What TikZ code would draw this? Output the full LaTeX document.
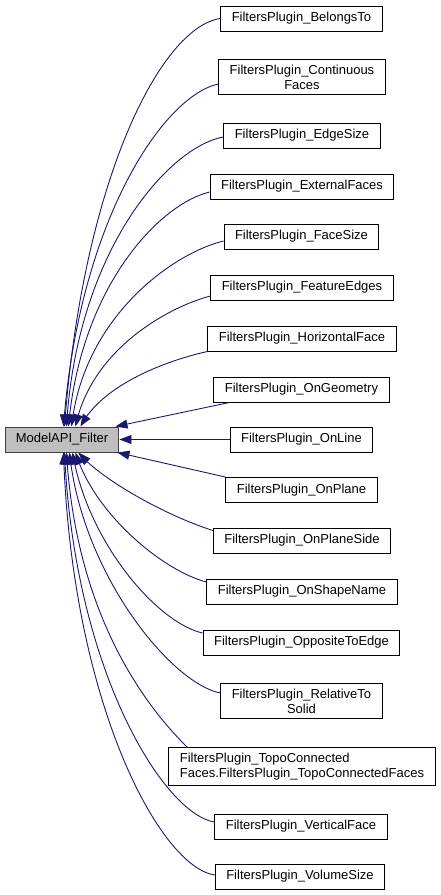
\documentclass[tikz,border=0pt]{standalone}
\usepackage{fontspec}
\setmainfont{Liberation Sans}
\usetikzlibrary{arrows.meta,bending}
\definecolor{edgeblue}{HTML}{191970}
\definecolor{rootgray}{HTML}{BFBFBF}
\definecolor{rootline}{HTML}{404040}
\tikzset{>={Triangle[length=12pt,width=9pt,bend,fill=edgeblue]},
  cls/.style={draw=black,line width=1pt,fill=white,font=\fontsize{13}{15}\selectfont,
    inner xsep=11pt,inner ysep=5pt,minimum height=25pt,align=center},
  rootcls/.style={cls,fill=rootgray,draw=rootline,inner xsep=10.75pt},
  inh/.style={draw=edgeblue,line width=0.9pt,->}}

\begin{document}
\begin{tikzpicture}[x=1pt,y=-1pt]
  \useasboundingbox (0,0) rectangle (441,895);

  \node[rootcls] (root) at (62,439.5) {ModelAPI\_Filter};

  \node[cls] (bt) at (301.5,18.5) {FiltersPlugin\_BelongsTo};
  \node[cls] (cf) at (302,77) {FiltersPlugin\_Continuous\\Faces};
  \node[cls] (es) at (302,135.5) {FiltersPlugin\_EdgeSize};
  \node[cls] (ef) at (302,186.5) {FiltersPlugin\_ExternalFaces};
  \node[cls] (fs) at (301.5,236.5) {FiltersPlugin\_FaceSize};
  \node[cls] (fe) at (302,287.5) {FiltersPlugin\_FeatureEdges};
  \node[cls] (hf) at (302,338.5) {FiltersPlugin\_HorizontalFace};
  \node[cls] (og) at (301.5,389.5) {FiltersPlugin\_OnGeometry};
  \node[cls] (ol) at (301.5,439.5) {FiltersPlugin\_OnLine};
  \node[cls] (op) at (301.5,490) {FiltersPlugin\_OnPlane};
  \node[cls] (ops) at (302,540.5) {FiltersPlugin\_OnPlaneSide};
  \node[cls] (osn) at (302,591.5) {FiltersPlugin\_OnShapeName};
  \node[cls] (ote) at (301.5,642.5) {FiltersPlugin\_OppositeToEdge};
  \node[cls] (rs) at (301.5,701) {FiltersPlugin\_RelativeTo\\Solid};
  \node[cls,align=left] (tc) at (302,766.5) {FiltersPlugin\_TopoConnected\\Faces.FiltersPlugin\_TopoConnectedFaces};
  \node[cls] (vf) at (301,826.5) {FiltersPlugin\_VerticalFace};
  \node[cls] (vs) at (300,876.5) {FiltersPlugin\_VolumeSize};

  \draw[inh] (bt.west) .. controls +(-60,9) and +(18,-245) .. ([xshift=-55pt]root.north east);
  \draw[inh] ([yshift=-7pt]cf.west) .. controls +(-55,12) and +(15,-205) .. ([xshift=-56pt]root.north east);
  \draw[inh] ([yshift=-1.5pt]es.west) .. controls +(-55,10) and +(10,-175) .. ([xshift=-53pt]root.north east);
  \draw[inh] ([yshift=-5.5pt]ef.west) .. controls +(-50,12) and +(12,-140) .. ([xshift=-51pt]root.north east);
  \draw[inh] ([yshift=-4.5pt]fs.west) .. controls +(-50,12) and +(12,-110) .. ([xshift=-48pt]root.north east);
  \draw[inh] ([yshift=-8.5pt]fe.west) .. controls +(-45,12) and +(15,-75) .. ([xshift=-44pt]root.north east);
  \draw[inh] (hf.south west) .. controls +(-45,10) and +(20,-40) .. ([xshift=-39pt]root.north east);
  \draw[inh] ([xshift=16pt]og.south west) -- ([xshift=-4pt]root.north east);
  \draw[inh] (ol.west) -- (root.east);
  \draw[inh] (op.north west) -- ([xshift=-2pt]root.south east);
  \draw[inh] ([yshift=10pt]ops.west) .. controls +(-50,-16) and +(20,25) .. ([xshift=-41pt]root.south east);
  \draw[inh] ([yshift=9.5pt]osn.west) .. controls +(-45,-12) and +(18,60) .. ([xshift=-44pt]root.south east);
  \draw[inh] ([yshift=9.5pt]ote.west) .. controls +(-45,-10) and +(15,90) .. ([xshift=-47pt]root.south east);
  \draw[inh] ([yshift=8pt]rs.west) .. controls +(-50,-10) and +(12,120) .. ([xshift=-50pt]root.south east);
  \draw[inh] ([xshift=19pt]tc.north west) .. controls +(-30,-30) and +(10,176) .. ([xshift=-53pt]root.south east);
  \draw[inh] ([yshift=4.5pt]vf.west) .. controls +(-50,-8) and +(10,220) .. ([xshift=-55pt]root.south east);
  \draw[inh] ([yshift=1.5pt]vs.west) .. controls +(-55,-8) and +(8,250) .. ([xshift=-56pt]root.south east);
\end{tikzpicture}
\end{document}
